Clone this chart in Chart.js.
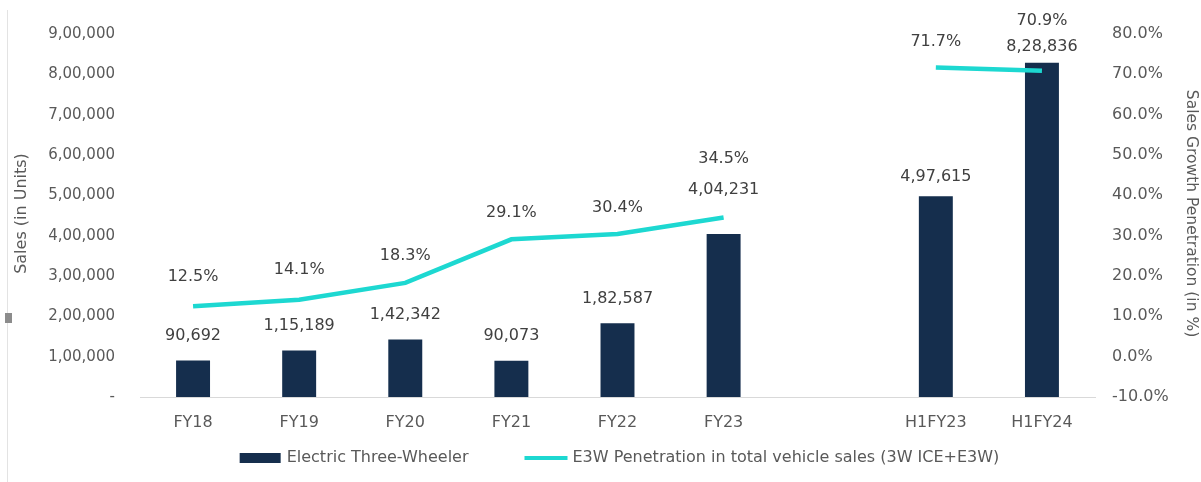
<!DOCTYPE html>
<html>
<head>
<meta charset="utf-8">
<script src="https://cdn.jsdelivr.net/npm/chart.js@4.4.1/dist/chart.umd.min.js"></script>
<style>
  html, body { margin: 0; padding: 0; background: #ffffff; }
  #wrap { width: 1201px; height: 482px; }
</style>
</head>
<body>
<div id="wrap"><canvas id="c" width="1201" height="482"></canvas></div>
<script>
// ---- data ----
const categories = ['FY18', 'FY19', 'FY20', 'FY21', 'FY22', 'FY23', '', 'H1FY23', 'H1FY24'];
const salesUnits = [90692, 115189, 142342, 90073, 182587, 404231, null, 497615, 828836];
const penetrationPct = [12.5, 14.1, 18.3, 29.1, 30.4, 34.5, null, 71.7, 70.9];
const seriesNames = ['Electric Three-Wheeler', 'E3W Penetration in total vehicle sales (3W ICE+E3W)'];
const leftAxisTitle = 'Sales (in Units)';
const rightAxisTitle = 'Sales Growth Penetration (in %)';

// label offsets (px above mark) chosen to avoid overlaps, as in the reference
const barLabelLift = [25, 25, 25, 25, 25, 44, 0, 19, 16];
const lineLabelLift = [29, 30, 27, 26, 26, 59, 0, 26, 50];

const FONT = '"DejaVu Sans", sans-serif';
const AXIS_GREY = '#595959';
const LABEL_GREY = '#404040';
const BAR_COLOR = '#152E4D';
const LINE_COLOR = '#1DD8D1';

function indian(n) {
  const s = Math.round(n).toString();
  if (s.length <= 3) return s;
  const last3 = s.slice(-3);
  const rest = s.slice(0, -3).replace(/\B(?=(\d{2})+(?!\d))/g, ',');
  return rest + ',' + last3;
}

const decorPlugin = {
  id: 'decor',
  beforeDraw(chart) {
    const ctx = chart.ctx;
    ctx.save();
    ctx.strokeStyle = '#E3E3E3';
    ctx.lineWidth = 1;
    ctx.beginPath();
    ctx.moveTo(7.5, 10);
    ctx.lineTo(7.5, 482);
    ctx.stroke();
    ctx.fillStyle = '#8C8C8C';
    ctx.fillRect(5, 313, 7, 10);
    ctx.restore();
  }
};

const axisTitlePlugin = {
  id: 'axisTitles',
  afterDraw(chart) {
    const ctx = chart.ctx;
    const ca = chart.chartArea;
    const mid = (ca.top + ca.bottom) / 2;
    ctx.save();
    ctx.fillStyle = AXIS_GREY;
    ctx.textAlign = 'center';
    ctx.textBaseline = 'middle';
    ctx.font = '16px ' + FONT;
    ctx.save();
    ctx.translate(22, mid - 2);
    ctx.rotate(-Math.PI / 2);
    ctx.fillText(leftAxisTitle, 0, 0);
    ctx.restore();
    ctx.font = '15.5px ' + FONT;
    ctx.save();
    ctx.translate(1191, mid - 2);
    ctx.rotate(Math.PI / 2);
    ctx.fillText(rightAxisTitle, 0, 0);
    ctx.restore();
    ctx.restore();
  }
};

const labelPlugin = {
  id: 'valueLabels',
  afterDatasetsDraw(chart) {
    const ctx = chart.ctx;
    ctx.save();
    ctx.font = '16px ' + FONT;
    ctx.fillStyle = LABEL_GREY;
    ctx.textAlign = 'center';
    ctx.textBaseline = 'middle';
    const barMeta = chart.getDatasetMeta(0);
    barMeta.data.forEach((el, i) => {
      const v = salesUnits[i];
      if (v == null) return;
      ctx.fillText(indian(v), el.x, el.y - barLabelLift[i]);
    });
    const lineMeta = chart.getDatasetMeta(1);
    lineMeta.data.forEach((el, i) => {
      const v = penetrationPct[i];
      if (v == null) return;
      ctx.fillText(v.toFixed(1) + '%', el.x, el.y - lineLabelLift[i]);
    });
    ctx.restore();
  }
};

const legendPlugin = {
  id: 'customLegend',
  afterDraw(chart) {
    const ctx = chart.ctx;
    ctx.save();
    ctx.font = '16px ' + FONT;
    ctx.textBaseline = 'middle';
    ctx.textAlign = 'left';
    const w1 = ctx.measureText(seriesNames[0]).width;
    const w2 = ctx.measureText(seriesNames[1]).width;
    const box1 = 41, gap1 = 6, spacing = 56, box2 = 43, gap2 = 5;
    const total = box1 + gap1 + w1 + spacing + box2 + gap2 + w2;
    const ca = chart.chartArea;
    const cx = (ca.left + ca.right) / 2 + 2;
    const cy = ca.bottom + 61;
    let x = cx - total / 2;
    ctx.fillStyle = BAR_COLOR;
    ctx.fillRect(x, cy - 5, box1, 10);
    x += box1 + gap1;
    ctx.fillStyle = AXIS_GREY;
    ctx.fillText(seriesNames[0], x, cy);
    x += w1 + spacing;
    ctx.strokeStyle = LINE_COLOR;
    ctx.lineWidth = 4;
    ctx.beginPath();
    ctx.moveTo(x, cy);
    ctx.lineTo(x + box2, cy);
    ctx.stroke();
    x += box2 + gap2;
    ctx.fillStyle = AXIS_GREY;
    ctx.fillText(seriesNames[1], x, cy);
    ctx.restore();
  }
};

new Chart(document.getElementById('c'), {
  type: 'bar',
  data: {
    labels: categories,
    datasets: [
      {
        type: 'bar',
        label: seriesNames[0],
        data: salesUnits,
        backgroundColor: BAR_COLOR,
        borderWidth: 0,
        yAxisID: 'y',
        barPercentage: 0.32,
        categoryPercentage: 1.0,
        order: 1
      },
      {
        type: 'line',
        label: seriesNames[1],
        data: penetrationPct,
        borderColor: LINE_COLOR,
        backgroundColor: LINE_COLOR,
        borderWidth: 4.5,
        pointRadius: 0,
        pointHoverRadius: 0,
        tension: 0,
        spanGaps: false,
        yAxisID: 'y1',
        order: 0
      }
    ]
  },
  options: {
    responsive: false,
    animation: false,
    devicePixelRatio: 1,
    layout: { padding: { top: 33, left: 0, right: 0, bottom: 0 } },
    plugins: {
      legend: { display: false },
      tooltip: { enabled: false }
    },
    scales: {
      x: {
        grid: { display: false, drawTicks: false },
        border: { display: true, color: '#D9D9D9', width: 1 },
        ticks: { color: AXIS_GREY, font: { family: FONT, size: 16 }, padding: 16, maxRotation: 0, autoSkip: false },
        afterFit(scale) { scale.height = 85; }
      },
      y: {
        position: 'left',
        min: 0,
        max: 900000,
        grid: { display: false, drawTicks: false },
        border: { display: false },
        ticks: {
          stepSize: 100000,
          color: AXIS_GREY,
          font: { family: FONT, size: 15 },
          padding: 25,
          callback: (v) => v === 0 ? '-' : indian(v)
        },
        afterFit(scale) { scale.width = 140; }
      },
      y1: {
        position: 'right',
        min: -10,
        max: 80,
        grid: { display: false, drawTicks: false },
        border: { display: false },
        ticks: {
          stepSize: 10,
          color: AXIS_GREY,
          font: { family: FONT, size: 16 },
          padding: 17,
          callback: (v) => v.toFixed(1) + '%'
        },
        afterFit(scale) { scale.width = 106; }
      }
    }
  },
  plugins: [decorPlugin, labelPlugin, legendPlugin, axisTitlePlugin]
});
</script>
</body>
</html>
